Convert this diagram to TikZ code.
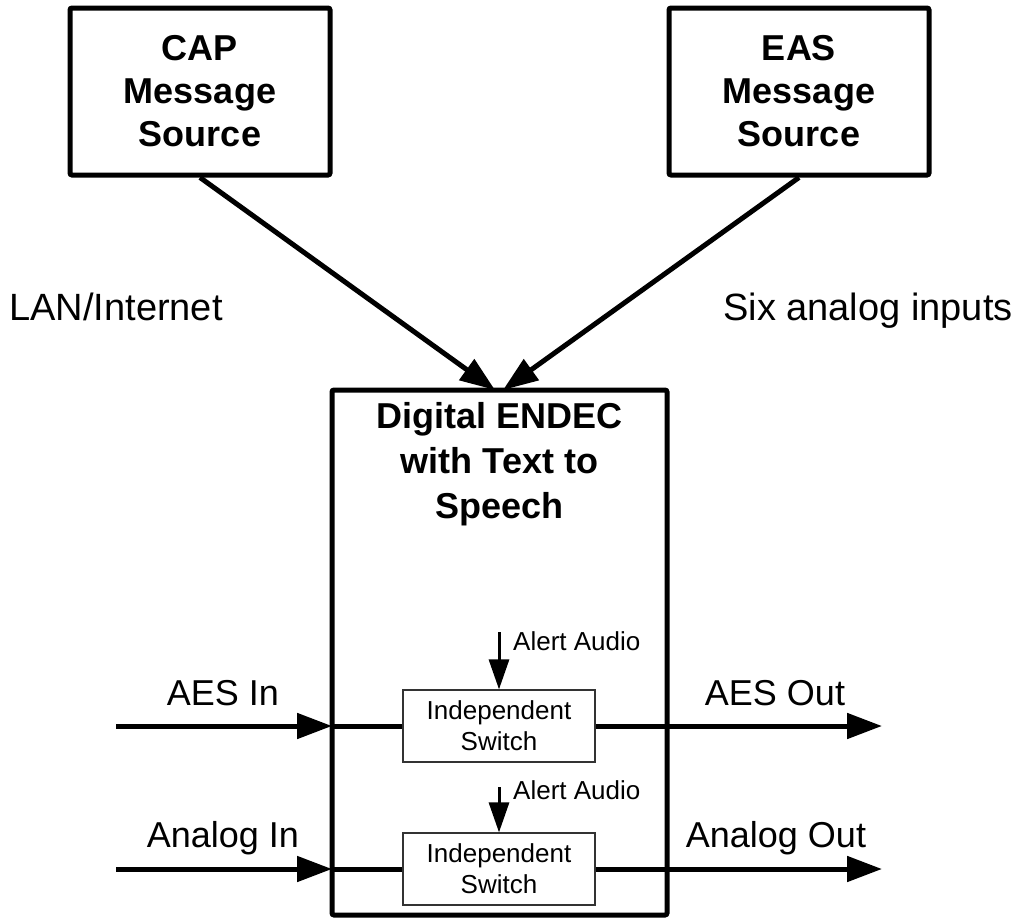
\documentclass[tikz,border=0pt]{standalone}
\usepackage{fontspec}
\setmainfont{Liberation Sans}
\usetikzlibrary{arrows.meta}
\begin{document}
\begin{tikzpicture}[x=1pt,y=-1pt,
  thickbox/.style={draw, line width=5pt, rounded corners=2pt, inner sep=0pt, align=center,
    font=\fontsize{36}{43}\selectfont\bfseries},
  switchbox/.style={draw=black!80, line width=1.2pt, minimum width=192pt, minimum height=72pt,
    inner sep=0pt, align=center, font=\fontsize{26}{31}\selectfont},
  bigarrow/.style={line width=5pt, -{Triangle[length=35pt,width=25pt]}},
  smallarrow/.style={line width=3pt, -{Triangle[length=30pt,width=20pt]}},
  link/.style={line width=5pt},
  lbl/.style={font=\fontsize{36}{43}\selectfont, inner sep=0pt},
  wlbl/.style={font=\fontsize{38}{45}\selectfont, inner sep=0pt},
  slbl/.style={font=\fontsize{26}{31}\selectfont, inner sep=0pt},
]
\useasboundingbox (0,0) rectangle (1018,918);

% top sources
\node[thickbox, minimum width=260pt, minimum height=167pt] (cap) at (200,91.5) {CAP\\Message\\Source};
\node[thickbox, minimum width=260pt, minimum height=167pt] (eas) at (799,91.5) {EAS\\Message\\Source};

% main ENDEC box
\node[thickbox, minimum width=335pt, minimum height=525pt] (main) at (499.5,652.5) {};
\node[font=\fontsize{36}{45}\selectfont\bfseries, align=center, anchor=north, inner sep=0pt] (title)
  at (499.5,402) {Digital ENDEC\\with Text to\\Speech};

% feeds into the main box
\coordinate (tipL) at (495,390);
\coordinate (tipR) at (503,390);
\draw[bigarrow] (cap.south) -- (tipL);
\draw[bigarrow] (eas.south) -- (tipR);
\node[wlbl, anchor=base] (lan) at (116,320) {LAN/Internet};
\node[wlbl, anchor=base] (six) at (868,320) {Six analog inputs};

% switches
\node[switchbox] (sw1) at (499,726) {Independent\\Switch};
\node[switchbox] (sw2) at (499,869) {Independent\\Switch};

% alert audio
\coordinate (al1) at (499,632);
\coordinate (al2) at (499,787);
\draw[smallarrow] (al1) -- (sw1.north);
\draw[smallarrow] (al2) -- (sw2.north);
\node[slbl, anchor=base west] (alt1) at (513,650) {Alert Audio};
\node[slbl, anchor=base west] (alt2) at (513,799) {Alert Audio};

% AES path
\coordinate (aesin) at (116,726);
\coordinate (aesedge) at (332,726);
\coordinate (aesout) at (882,726);
\draw[bigarrow] (aesin) -- (aesedge);
\draw[link] (aesedge) -- (sw1.west);
\draw[bigarrow] (sw1.east) -- (aesout);
\node[lbl, anchor=base] (aesinl) at (223,705) {AES In};
\node[lbl, anchor=base] (aesoutl) at (775,705) {AES Out};

% Analog path
\coordinate (anin) at (116,869);
\coordinate (anedge) at (332,869);
\coordinate (anout) at (882,869);
\draw[bigarrow] (anin) -- (anedge);
\draw[link] (anedge) -- (sw2.west);
\draw[bigarrow] (sw2.east) -- (anout);
\node[lbl, anchor=base] (aninl) at (223,847) {Analog In};
\node[lbl, anchor=base] (anoutl) at (776,847) {Analog Out};
\end{tikzpicture}
\end{document}
